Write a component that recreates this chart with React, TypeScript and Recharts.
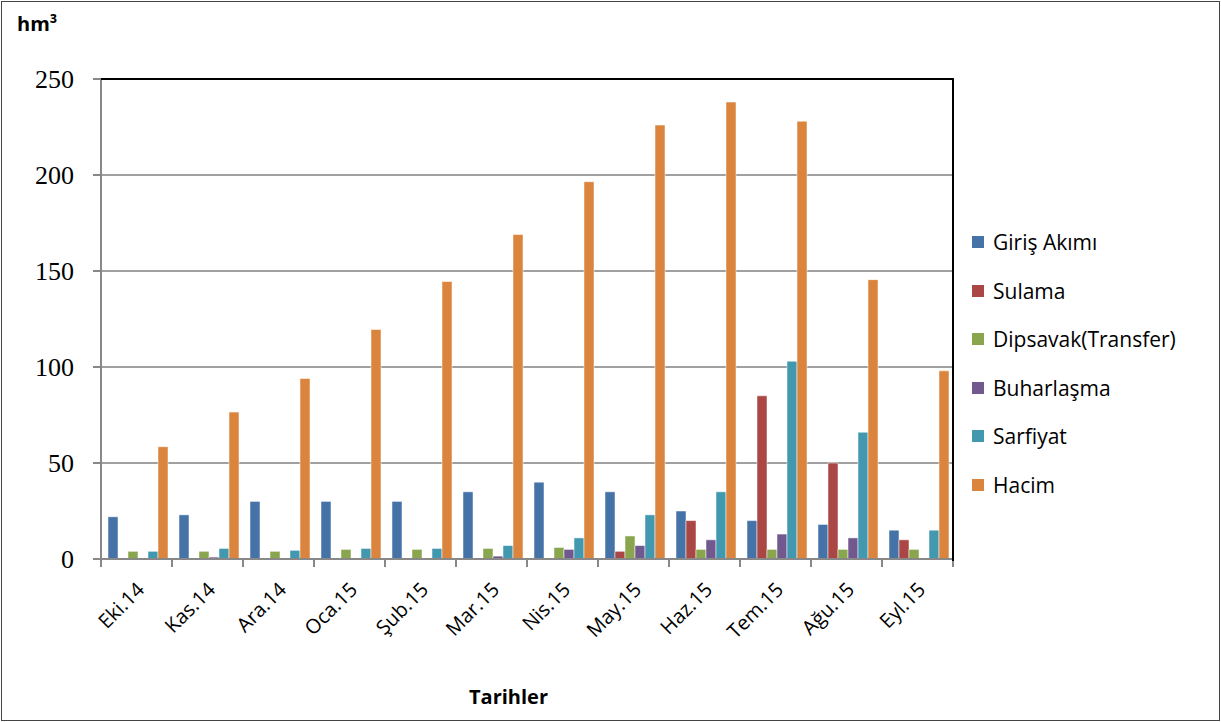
import React from 'react';
import { BarChart, Bar, XAxis, YAxis, CartesianGrid } from 'recharts';

const months = ['Eki.14', 'Kas.14', 'Ara.14', 'Oca.15', 'Şub.15', 'Mar.15', 'Nis.15', 'May.15', 'Haz.15', 'Tem.15', 'Ağu.15', 'Eyl.15'];
const girisAkimi = [22, 23, 30, 30, 30, 35, 40, 35, 25, 20, 18, 15];
const sulama = [0, 0, 0, 0, 0, 0, 0, 4, 20, 85, 50, 10];
const dipsavak = [4, 4, 4, 5, 5, 5.5, 6, 12, 5, 5, 5, 5];
const buharlasma = [0, 1, 0, 0, 0, 1.5, 5, 7, 10, 13, 11, 0];
const sarfiyat = [4, 5.5, 4.5, 5.5, 5.5, 7, 11, 23, 35, 103, 66, 15];
const hacim = [58.5, 76.5, 94, 119.5, 144.5, 169, 196.5, 226, 238, 228, 145.5, 98];
const yTicks = [0, 50, 100, 150, 200, 250];

const series = [
  { key: 'giris', name: 'Giriş Akımı', color: '#4572A7' },
  { key: 'sulama', name: 'Sulama', color: '#AA4643' },
  { key: 'dipsavak', name: 'Dipsavak(Transfer)', color: '#89A54E' },
  { key: 'buhar', name: 'Buharlaşma', color: '#71588F' },
  { key: 'sarfiyat', name: 'Sarfiyat', color: '#4198AF' },
  { key: 'hacim', name: 'Hacim', color: '#DB843D' },
];

const data = months.map((m, i) => ({
  month: m,
  giris: girisAkimi[i],
  sulama: sulama[i],
  dipsavak: dipsavak[i],
  buhar: buharlasma[i],
  sarfiyat: sarfiyat[i],
  hacim: hacim[i],
}));

const SANS = '"Open Sans", "Liberation Sans", sans-serif';
const BAND = 852 / months.length;

// month label rotated like excel, tick marks sit on the category edges
const MonthTick = ({ x, y, payload, index }: any) => {
  const half = BAND / 2;
  const tx = x + 9;
  const ty = y + 24;
  return (
    <g>
      <line x1={x - half} y1={y - 8} x2={x - half} y2={y} stroke="#888" strokeWidth={2} />
      {index === months.length - 1 && (
        <line x1={x + half} y1={y - 8} x2={x + half} y2={y} stroke="#888" strokeWidth={2} />
      )}
      <text
        x={tx}
        y={ty}
        textAnchor="end"
        transform={`rotate(-45, ${tx}, ${ty})`}
        fontFamily={SANS}
        fontSize={20}
        fill="#000"
      >
        {payload.value}
      </text>
    </g>
  );
};

export default function App() {
  return (
    <div style={{ position: 'absolute', left: 0, top: 0, width: 1221, height: 722, background: '#fff' }}>
      <div
        style={{
          position: 'absolute', left: 1, top: 1, width: 1217, height: 718,
          border: '1px solid #444',
        }}
      />
      <div style={{ position: 'absolute', left: 17, top: 10, fontFamily: SANS, fontWeight: 700, fontSize: 20 }}>
        hm³
      </div>
      <div style={{ position: 'absolute', left: 469, top: 683, fontFamily: SANS, fontWeight: 700, fontSize: 20 }}>
        Tarihler
      </div>
      <BarChart
        width={1221}
        height={722}
        data={data}
        margin={{ top: 79, right: 268, bottom: 0, left: 0 }}
        barCategoryGap={7}
        barGap={0}
      >
        <CartesianGrid vertical={false} stroke="#a0a0a0" strokeWidth={2} />
        <XAxis
          dataKey="month"
          height={163}
          interval={0}
          tickLine={false}
          axisLine={{ stroke: '#888', strokeWidth: 2 }}
          tick={<MonthTick />}
        />
        <YAxis
          width={101}
          domain={[0, 250]}
          ticks={yTicks}
          tickSize={8}
          tickMargin={19}
          axisLine={{ stroke: '#888', strokeWidth: 2 }}
          tickLine={{ stroke: '#888', strokeWidth: 2 }}
          tick={{ fontFamily: '"Liberation Serif", serif', fontSize: 26, fill: '#000' }}
        />
        {series.map((s) => (
          <Bar
            key={s.key}
            dataKey={s.key}
            name={s.name}
            fill={s.color}
            stroke="rgba(255,255,255,0.5)"
            strokeWidth={1}
            isAnimationActive={false}
          />
        ))}
      </BarChart>
      <div
        style={{
          position: 'absolute', left: 101, top: 78, width: 851, height: 481,
          borderTop: '2px solid #000', borderRight: '2px solid #000', pointerEvents: 'none',
        }}
      />
      <div style={{ position: 'absolute', left: 972, top: 218, fontFamily: SANS, fontSize: 21, color: '#000' }}>
        {series.map((s) => (
          <div key={s.key} style={{ display: 'flex', alignItems: 'center', height: 48.5 }}>
            <span style={{ display: 'inline-block', width: 12, height: 12, background: s.color, marginRight: 9 }} />
            <span>{s.name}</span>
          </div>
        ))}
      </div>
    </div>
  );
}
